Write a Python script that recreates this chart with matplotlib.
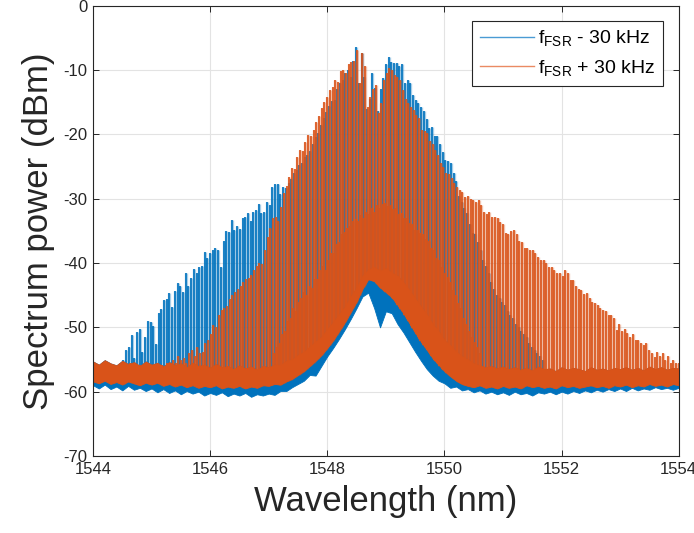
import numpy as np
import matplotlib
matplotlib.use("Agg")
import matplotlib.pyplot as plt
from matplotlib.lines import Line2D

# comb line grid (nm)
comb_start_blue = 1544.52
comb_start_orange = 1544.532
comb_step = 0.0462

# peak power of each comb line, f_FSR - 30 kHz (dBm)
blue_peaks = [
    -55, -53.5, -53, -51.2, -54.7, -50.7, -50.2, -53.8, -51.5, -49,
    -49.2, -49.8, -52.6, -47.8, -47.1, -45.7, -45.6, -44.6, -46.8, -44.3,
    -43.1, -43.5, -44.5, -41.5, -43.5, -42.3, -40.9, -41.5, -40.6, -40.4,
    -38.3, -39.2, -38.4, -37.9, -37.6, -37.9, -40.6, -36.5, -35, -35.1,
    -33.3, -34.8, -34.2, -34.7, -33.0, -32.8, -32.2, -33.5, -32.0, -31.7,
    -30.8, -32.2, -32.0, -30.5, -31.0, -28.1, -27.7, -27.7, -29.2, -28.1,
    -28.3, -27.5, -27.0, -26.0, -25.5, -24.8, -24.5, -23.5, -23.2, -22.5,
    -21.5, -20.4, -19.8, -18.5, -17.4, -16.5, -15.5, -14.8, -14.6, -13.0,
    -12.0, -11.5, -10.5, -10.0, -11.0, -8.5, -6.4, -12, -7.4, -11,
    -16, -14.5, -10.5, -12.8, -16.4, -13, -11.2, -9, -7.9, -8.7,
    -8.9, -8.9, -9.3, -9.1, -12, -11.5, -12, -13.8, -14.6, -15.1,
    -15.8, -16.4, -17.6, -19, -18.8, -20.3, -20.3, -21.5, -22.7, -24,
    -24.2, -24.5, -26, -27.3, -29.5, -30.5, -31.5, -32.2, -34, -35.3,
    -35.5, -36.8, -38, -39.5, -40.5, -41.5, -43, -44, -44.9, -45.5,
    -46, -46.5, -47.5, -48, -48.5, -49.5, -50, -50.5, -51, -51.5,
    -52.4, -53, -53.5, -54, -54.5, -55,
]

# peak power of each comb line, f_FSR + 30 kHz (dBm)
orange_peaks = [
    -55.8, -56.0, -55.6, -55.9, -55.7, -56.1, -55.8, -56.0, -55.6, -56.2,
    -55.9, -56.0, -55.7, -56.1, -55.8, -56.0, -55.5, -55.9, -55, -55.5,
    -54.5, -55, -54.8, -55.5, -54, -53.5, -54.5, -53, -54, -53.8,
    -52.5, -52, -51, -49.6, -50, -48.1, -47.3, -47, -46.7, -45.6,
    -45, -44.5, -44, -43.5, -43, -42.5, -42.3, -41.8, -41, -40.5,
    -40, -40.2, -38, -36, -34.5, -33, -32.8, -33.5, -31.3, -29.1,
    -28, -26.6, -25.2, -25.4, -23.5, -22.4, -22.5, -21.2, -20.1, -20.2,
    -19.3, -18, -17.2, -15.9, -15, -14.1, -13.1, -12.6, -11.6, -11.8,
    -10.1, -10, -10.4, -9.1, -8.8, -8.6, -6.9, -12, -7.4, -9.4,
    -15.7, -14.1, -13, -12.3, -16.7, -15.1, -11.5, -10.5, -9.7, -10,
    -10.7, -11, -11.5, -13.1, -14.5, -15.1, -15.8, -16.2, -17, -17.5,
    -19.3, -19.5, -19.8, -21, -21.5, -22.4, -23.2, -24.5, -25, -26,
    -26.2, -26.8, -27.5, -28.1, -28.6, -29, -29.7, -29.5, -30, -30.2,
    -30.5, -30.2, -31, -32, -32.3, -32, -32.8, -32.8, -33, -33.6,
    -34, -35.3, -35.5, -35, -34.8, -35.5, -36.5, -36.8, -37.6, -37.6,
    -38, -38, -38.5, -39, -39.5, -39.5, -40, -40.6, -40.6, -41,
    -41.5, -41.5, -42, -41.1, -41.5, -42.6, -42.6, -43.5, -44, -44.2,
    -44.8, -44.6, -45.5, -46, -46.2, -46.5, -47, -47.3, -47.5, -48,
    -48, -48.5, -50.4, -49.5, -50.5, -50.2, -50.9, -51.5, -51, -52,
    -51.9, -52.5, -52.8, -52.4, -53.5, -54, -54.6, -53.8, -54.5, -54,
    -55, -54.5, -55.5, -55, -55.5, -55.5,
]

# weaker in-between lines of the f_FSR + 30 kHz trace (start at comb index 55)
orange_side_first = 55
orange_side = [
    -54, -53, -52.5, -51, -50.5, -49, -48.5, -47, -47.5, -46,
    -45.5, -44.5, -45, -43.5, -43.8, -42.5, -42.5, -41, -40.5, -41,
    -39.5, -38.5, -38.5, -37, -36.8, -35.5, -35.2, -34.5, -34.3, -33.5,
    -33.2, -33.4, -32.5, -33, -32, -32.4, -31.5, -32, -31, -31.5,
    -30.8, -30.6, -31.2, -31, -31.6, -31.5, -32.3, -32.2, -33, -33,
    -33.8, -34, -34.8, -34.8, -35.3, -35.5, -36.2, -36.5, -37.6, -38,
    -39.2, -39.5, -40.6, -41.5, -42.2, -43, -44.2, -45, -46.2, -47,
    -48.5, -49.5, -50.5, -51.5, -52.2, -53, -54,
]

# noise floor band edges (dBm) on a 0.1 nm grid
floor_wl = np.linspace(1544.0, 1554.0, 101)
orange_floor_top = [
    -55.3, -55.8, -55.1, -55.6, -55.9, -55.2, -55.7, -55.4, -56.0, -55.3,
    -55.8, -55.5, -56.1, -55.4, -55.9, -55.6, -56.2, -55.5, -56.0, -55.8,
    -56.3, -55.7, -56.2, -56.0, -56.5, -55.9, -56.4, -56.1, -56.6, -56.0,
    -56.2, -55.8, -55.9, -55.2, -55.0, -54.3, -53.8, -53.0, -52.2, -51.5,
    -50.3, -49.2, -48.0, -46.8, -45.2, -43.8, -42.0, -41.0, -40.6, -41.2,
    -40.8, -41.5, -42.0, -43.0, -44.2, -45.5, -46.8, -48.0, -49.5, -50.6,
    -52.0, -52.8, -53.8, -54.5, -55.0, -55.6, -55.9, -56.2, -56.0, -56.4,
    -56.1, -56.5, -56.2, -56.6, -56.3, -56.7, -56.1, -56.5, -56.4, -56.8,
    -56.2, -56.6, -56.3, -56.5, -56.8, -56.2, -56.6, -56.4, -56.7, -56.3,
    -56.5, -56.2, -56.6, -56.3, -56.7, -56.1, -56.5, -56.2, -56.6, -56.3,
    -56.4,
]
orange_floor_bottom = [
    -58.4, -58.7, -58.3, -58.8, -58.5, -58.9, -58.4, -58.7, -59.0, -58.6,
    -58.9, -58.6, -59.1, -58.8, -59.2, -58.9, -59.3, -59.0, -59.4, -59.1,
    -59.3, -59.0, -59.5, -59.2, -59.4, -59.1, -59.5, -59.2, -59.4, -59.0,
    -59.1, -58.8, -58.9, -58.4, -58.0, -57.4, -56.8, -56.0, -55.2, -54.3,
    -53.2, -52.0, -50.6, -49.2, -47.6, -46.0, -44.0, -42.5, -42.8, -43.8,
    -44.5, -45.3, -46.5, -47.8, -49.3, -50.8, -52.2, -53.5, -54.8, -55.8,
    -56.8, -57.6, -58.3, -58.8, -59.1, -59.3, -59.0, -59.4, -59.2, -59.5,
    -59.1, -59.4, -59.2, -59.5, -59.0, -59.3, -59.1, -59.4, -59.2, -59.5,
    -59.0, -59.3, -59.1, -59.4, -59.2, -59.0, -59.3, -59.1, -59.4, -59.0,
    -59.2, -58.9, -59.3, -59.0, -59.2, -58.8, -59.1, -58.9, -59.2, -58.8,
    -59.0,
]
blue_floor_bottom = [
    -59.0, -59.5, -58.9, -59.6, -59.2, -59.8, -59.1, -59.7, -59.4, -59.9,
    -59.5, -60.1, -59.6, -60.2, -59.8, -60.4, -59.9, -60.3, -60.0, -60.6,
    -60.2, -60.5, -60.1, -60.7, -60.3, -60.6, -60.2, -60.8, -60.4, -60.6,
    -60.3, -60.5, -59.9, -59.9, -59.3, -58.8, -58.3, -57.4, -57.5, -56.0,
    -54.5, -53.2, -51.8, -50.3, -48.7, -47.0, -45.2, -44.6, -47.0, -50.0,
    -47.5, -47.8, -49.5, -50.8, -52.3, -53.8, -55.2, -56.5, -57.5, -58.3,
    -58.7, -59.4, -59.2, -59.8, -59.6, -60.1, -59.8, -60.3, -60.0, -60.4,
    -60.1, -60.5, -60.0, -60.4, -60.2, -60.6, -60.1, -60.3, -60.0, -60.4,
    -60.0, -60.3, -59.9, -60.2, -59.8, -60.1, -59.7, -60.0, -59.6, -59.9,
    -59.5, -59.9, -59.4, -59.8, -59.5, -59.7, -59.3, -59.6, -59.4, -59.7,
    -59.4,
]

xticks = [1544, 1546, 1548, 1550, 1552, 1554]
yticks = [-70, -60, -50, -40, -30, -20, -10, 0]
labels = [r'f$_{\mathrm{FSR}}$ - 30 kHz', r'f$_{\mathrm{FSR}}$ + 30 kHz']

c_blue = '#0072BD'
c_orange = '#D95319'

plt.rcParams['font.family'] = ['Liberation Sans', 'DejaVu Sans']
plt.rcParams['mathtext.fontset'] = 'custom'
plt.rcParams['mathtext.rm'] = 'Liberation Sans'
plt.rcParams['axes.unicode_minus'] = False

fig = plt.figure(figsize=(6.94, 5.33), dpi=100)
ax = fig.add_axes([0.134, 0.1445, 0.844, 0.8445])

wl_b = comb_start_blue + comb_step * np.arange(len(blue_peaks))
wl_o = comb_start_orange + comb_step * np.arange(len(orange_peaks))
wl_s = comb_start_orange + comb_step * (orange_side_first + 0.5 + np.arange(len(orange_side)))

# spikes start inside the floor band
base_b = np.interp(wl_b, floor_wl, orange_floor_bottom)
base_o = np.interp(wl_o, floor_wl, orange_floor_bottom)
base_s = np.interp(wl_s, floor_wl, orange_floor_bottom)

for lw, a in [(2.4, 0.35), (1.2, 1.0)]:
    ax.vlines(wl_b, base_b, blue_peaks, color=c_blue, lw=lw, alpha=a, zorder=2)
ax.fill_between(floor_wl, blue_floor_bottom, orange_floor_top, color=c_blue, lw=0.6, zorder=2.1)
for lw, a in [(2.4, 0.35), (1.2, 1.0)]:
    ax.vlines(wl_o, base_o, orange_peaks, color=c_orange, lw=lw, alpha=a, zorder=3)
    ax.vlines(wl_s, base_s, orange_side, color=c_orange, lw=lw, alpha=a, zorder=3)
ax.fill_between(floor_wl, orange_floor_bottom, orange_floor_top, color=c_orange, lw=0.6, zorder=3.1)

ax.set_xlim(1544, 1554)
ax.set_ylim(-70, 0)
ax.set_xticks(xticks)
ax.set_yticks(yticks)
ax.grid(True, color='#e3e3e3', lw=0.8)
ax.set_axisbelow(True)
ax.tick_params(direction='in', length=4, width=0.7, top=True, right=True,
               labelsize=12, colors='#262626', pad=4)
for s in ax.spines.values():
    s.set_color('#262626')
    s.set_linewidth(0.8)
    s.set_zorder(5)

ax.set_xlabel('Wavelength (nm)', fontsize=25, color='#262626', labelpad=6)
ax.set_ylabel('Spectrum power (dBm)', fontsize=25, color='#262626', labelpad=6)

handles = [Line2D([], [], color='#4a9bd4', lw=1.0), Line2D([], [], color='#ea8a63', lw=1.0)]
leg = ax.legend(handles, labels, loc='upper right', fontsize=14, frameon=True,
                fancybox=False, framealpha=1, edgecolor='#262626',
                borderaxespad=0.8, handlelength=2.8, handletextpad=0.2,
                labelspacing=0.45, borderpad=0.4)
leg.get_frame().set_linewidth(0.8)
leg.set_zorder(10)

fig.savefig('out.png', dpi=100)
